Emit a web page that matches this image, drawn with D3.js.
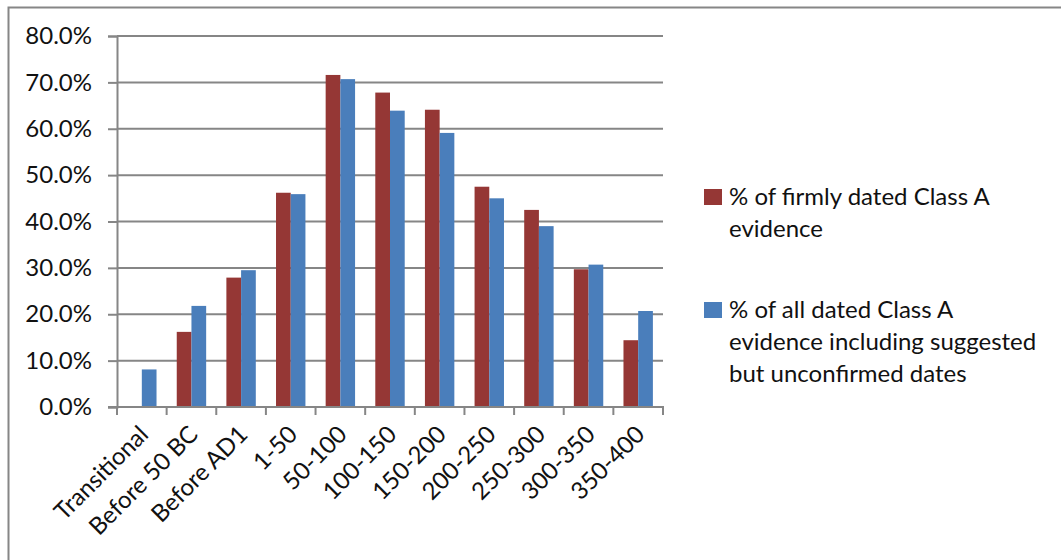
<!DOCTYPE html>
<html>
<head>
<meta charset="utf-8">
<script src="https://cdn.jsdelivr.net/npm/d3@7"></script>
<style>
  html, body { margin: 0; padding: 0; background: #fff; }
  svg { display: block; }
  text { font-family: Lato, "Noto Sans", sans-serif; fill: #111; }
</style>
</head>
<body>
<svg id="chart" width="1061" height="560"></svg>
<script>
// Dating periods along the x axis
const periods = ["Transitional", "Before 50 BC", "Before AD1", "1-50", "50-100", "100-150",
                 "150-200", "200-250", "250-300", "300-350", "350-400"];

// Share of firmly dated Class A evidence (%)
const firmlyDated = [0, 16.2, 27.9, 46.2, 71.6, 67.8, 64.1, 47.5, 42.5, 29.7, 14.4];

// Share of all dated Class A evidence, including suggested dates (%)
const allDated = [8.1, 21.8, 29.5, 45.9, 70.7, 63.9, 59.1, 45.0, 39.0, 30.7, 20.7];

const seriesNames = [
  ["% of firmly dated Class A", "evidence"],
  ["% of all dated Class A", "evidence including suggested", "but unconfirmed dates"]
];
const seriesColors = ["#953735", "#4a7ebb"];

const yTicks = [0, 10, 20, 30, 40, 50, 60, 70, 80];

const svg = d3.select("#chart");
const plot = { left: 117, right: 663, top: 36, bottom: 407 };
const gridColor = "#868686";
const fontSize = 24;

// Chart frame
svg.append("path")
  .attr("d", "M8.5,600 L8.5,7.5 L1070,7.5")
  .attr("fill", "none").attr("stroke", gridColor).attr("stroke-width", 2);

const x = d3.scaleBand().domain(periods).range([plot.left, plot.right]).paddingInner(0).paddingOuter(0);
const xInner = d3.scaleBand().domain([0, 1]).range([0, x.bandwidth()]).paddingInner(0).paddingOuter(0.6875);
const y = d3.scaleLinear().domain([0, 80]).range([plot.bottom, plot.top]);

// Horizontal gridlines
svg.append("g").selectAll("line").data(yTicks.filter(t => t > 0)).join("line")
  .attr("x1", plot.left).attr("x2", plot.right)
  .attr("y1", d => y(d)).attr("y2", d => y(d))
  .attr("stroke", gridColor).attr("stroke-width", 2);

// Y axis
const yAxis = svg.append("g").attr("transform", `translate(${plot.left},0)`)
  .call(d3.axisLeft(y).tickValues(yTicks).tickSize(9).tickPadding(16).tickFormat(d => d.toFixed(1) + "%"));
yAxis.select(".domain").attr("stroke", gridColor).attr("stroke-width", 2);
yAxis.selectAll(".tick line").attr("stroke", gridColor).attr("stroke-width", 2);
yAxis.selectAll("text").attr("font-size", fontSize).attr("font-family", "Lato, 'Noto Sans', sans-serif").attr("fill", "#111");

// Bars
const series = [firmlyDated, allDated];
series.forEach((vals, si) => {
  svg.append("g").selectAll("rect").data(vals.map((v, i) => ({ p: periods[i], v }))).join("rect")
    .attr("x", d => x(d.p) + xInner(si))
    .attr("width", xInner.bandwidth())
    .attr("y", d => y(d.v))
    .attr("height", d => y(0) - y(d.v))
    .attr("fill", seriesColors[si]);
});

// X axis with ticks between categories
const boundaries = periods.map(p => x(p)).concat([plot.right]);
svg.append("g").selectAll("line").data(boundaries).join("line")
  .attr("x1", d => d).attr("x2", d => d)
  .attr("y1", plot.bottom).attr("y2", plot.bottom + 8)
  .attr("stroke", gridColor).attr("stroke-width", 2);
svg.append("line")
  .attr("x1", plot.left - 9).attr("x2", plot.right + 1)
  .attr("y1", plot.bottom).attr("y2", plot.bottom)
  .attr("stroke", gridColor).attr("stroke-width", 2);

svg.append("g").selectAll("text").data(periods).join("text")
  .attr("transform", d => `translate(${x(d) + x.bandwidth() / 2 + 8},${plot.bottom + 29}) rotate(-45)`)
  .attr("text-anchor", "end")
  .attr("font-size", fontSize)
  .text(d => d);

// Legend
const legendY = [[205, 237], [318, 350, 382]];
seriesNames.forEach((lines, si) => {
  const g = svg.append("g");
  g.append("rect")
    .attr("x", 704).attr("y", legendY[si][0] - 16)
    .attr("width", 18).attr("height", 16)
    .attr("fill", seriesColors[si]);
  lines.forEach((ln, li) => {
    g.append("text").attr("x", 729).attr("y", legendY[si][li])
      .attr("font-size", fontSize).text(ln);
  });
});
</script>
</body>
</html>
